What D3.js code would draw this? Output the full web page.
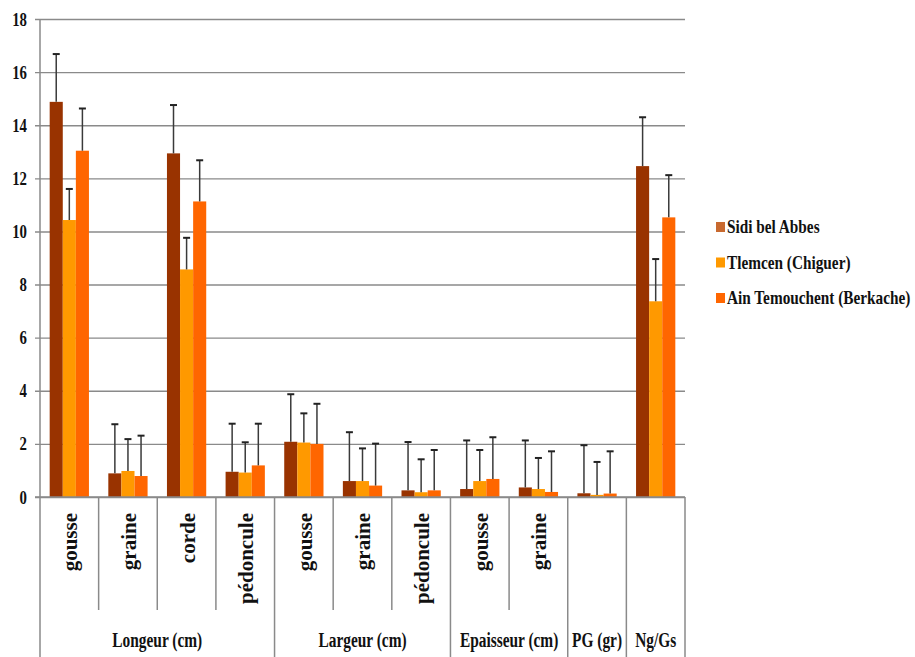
<!DOCTYPE html>
<html>
<head>
<meta charset="utf-8">
<script src="https://cdn.jsdelivr.net/npm/d3@7"></script>
<style>
  body { margin: 0; background: #fff; }
  text { font-family: "Liberation Serif", "Times New Roman", serif; font-weight: bold; fill: #111; }
</style>
</head>
<body>
<svg width="915" height="657"></svg>
<script>
// sub categories (bottom row, rotated) and their groups
const subLabels = ['gousse', 'graine', 'corde', 'pédoncule', 'gousse', 'graine', 'pédoncule', 'gousse', 'graine', '', '']
const groupNames = ['Longeur (cm)', 'Largeur (cm)', 'Epaisseur (cm)', 'PG (gr)', 'Ng/Gs']
const groupSizes = [4, 3, 2, 1, 1]

const seriesNames = ['Sidi bel Abbes', 'Tlemcen (Chiguer)', 'Ain Temouchent (Berkache)']
const sidi = [14.88, 0.89, 12.94, 0.95, 2.08, 0.60, 0.25, 0.30, 0.36, 0.14, 12.46]
const sidiErr = [1.80, 1.85, 1.82, 1.81, 1.79, 1.84, 1.82, 1.83, 1.77, 1.81, 1.84]
const tlemcen = [10.43, 0.98, 8.57, 0.92, 2.05, 0.60, 0.18, 0.60, 0.30, 0.08, 7.37]
const tlemcenErr = [1.17, 1.20, 1.19, 1.14, 1.10, 1.23, 1.24, 1.17, 1.17, 1.24, 1.59]
const ain = [13.04, 0.79, 11.13, 1.19, 2.00, 0.43, 0.25, 0.68, 0.19, 0.13, 10.53]
const ainErr = [1.59, 1.52, 1.55, 1.57, 1.51, 1.58, 1.52, 1.57, 1.53, 1.59, 1.59]
const yTicks = [0, 2, 4, 6, 8, 10, 12, 14, 16, 18]

const colors = ['#993300', '#ff9900', '#ff6600']
const legendColors = ['#c8692f', '#ff9900', '#ff6600']
const serif = '"Liberation Serif", "Times New Roman", serif'

const svg = d3.select('svg')
const plotLeft = 40
const plotRight = 685
const plotTop = 19
const plotBottom = 497

const idx = d3.range(subLabels.length)
const values = [sidi, tlemcen, ain]
const errs = [sidiErr, tlemcenErr, ainErr]

const x = d3.scaleBand().domain(idx).range([plotLeft, plotRight]).padding(0)
const xs = d3.scaleBand().domain([0, 1, 2]).range([0, x.bandwidth()]).paddingInner(0).paddingOuter(0.74)
const y = d3.scaleLinear().domain([0, 18]).range([plotBottom, plotTop])

// gridlines + y labels
const yAxis = d3.axisLeft(y).tickValues(yTicks).tickSize(-(plotRight - plotLeft)).tickSizeOuter(0)
const ga = svg.append('g')
  .attr('transform', 'translate(' + plotLeft + ',0)')
  .call(yAxis)
  .attr('font-family', serif)
  .attr('font-size', 19)
ga.select('.domain').remove()
ga.selectAll('.tick line').attr('x1', -5).attr('stroke', '#8a8a8a').attr('stroke-width', 1.4)
ga.selectAll('.tick text')
  .attr('x', -13 / 0.78)
  .attr('transform', 'scale(0.78,1)')
  .attr('font-family', serif)
  .attr('font-weight', 'bold')
  .attr('fill', '#111')

// bars
const cat = svg.selectAll('.cat')
  .data(idx)
  .enter().append('g')
  .attr('class', 'cat')
  .attr('transform', function (i) { return 'translate(' + x(i) + ',0)' })

for (let s = 0; s < 3; s++) {
  cat.append('rect')
    .attr('x', xs(s))
    .attr('width', xs.bandwidth())
    .attr('y', function (i) { return y(values[s][i]) })
    .attr('height', function (i) { return plotBottom - y(values[s][i]) })
    .attr('fill', colors[s])
}

// error bars (upper only)
for (let s = 0; s < 3; s++) {
  const cx = xs(s) + xs.bandwidth() / 2
  cat.append('line')
    .attr('x1', cx).attr('x2', cx)
    .attr('y1', function (i) { return y(values[s][i]) })
    .attr('y2', function (i) { return y(values[s][i] + errs[s][i]) })
    .attr('stroke', '#3a3a3a').attr('stroke-width', 1.5)
  cat.append('line')
    .attr('x1', cx - 3.5).attr('x2', cx + 3.5)
    .attr('y1', function (i) { return y(values[s][i] + errs[s][i]) })
    .attr('y2', function (i) { return y(values[s][i] + errs[s][i]) })
    .attr('stroke', '#222').attr('stroke-width', 2)
}

// axes lines
const lineColor = '#8a8a8a'
svg.append('line').attr('x1', plotLeft).attr('x2', plotLeft).attr('y1', plotTop).attr('y2', 657)
  .attr('stroke', lineColor).attr('stroke-width', 1.5)
svg.append('line').attr('x1', plotLeft - 5).attr('x2', plotRight).attr('y1', plotBottom).attr('y2', plotBottom)
  .attr('stroke', lineColor).attr('stroke-width', 1.5)

// group boundaries
const groupEnds = []
let acc = 0
groupSizes.forEach(function (n) { acc += n; groupEnds.push(acc) })

idx.slice(1).forEach(function (i) {
  const isGroup = groupEnds.indexOf(i) >= 0
  svg.append('line')
    .attr('x1', x(i)).attr('x2', x(i))
    .attr('y1', plotBottom).attr('y2', isGroup ? 657 : 610)
    .attr('stroke', lineColor).attr('stroke-width', 1.5)
})
svg.append('line').attr('x1', plotRight).attr('x2', plotRight).attr('y1', plotBottom).attr('y2', 657)
  .attr('stroke', lineColor).attr('stroke-width', 1.5)

// rotated sub labels
svg.selectAll('.sub')
  .data(idx.filter(function (i) { return subLabels[i] !== '' }))
  .enter().append('text')
  .attr('class', 'sub')
  .attr('transform', function (i) {
    return 'translate(' + (x(i) + x.bandwidth() / 2) + ',513) rotate(-90)'
  })
  .attr('text-anchor', 'end')
  .attr('dy', '0.38em')
  .attr('font-family', serif)
  .style('font-size', '21px')
  .text(function (i) { return subLabels[i] })

// group labels
let start = 0
groupNames.forEach(function (name, g) {
  const x0 = x(start)
  const x1 = x(start + groupSizes[g] - 1) + x.bandwidth()
  svg.append('text')
    .attr('transform', 'translate(' + ((x0 + x1) / 2) + ',647) scale(0.77,1)')
    .attr('text-anchor', 'middle')
    .attr('font-family', serif)
    .style('font-size', '20px')
    .text(name)
  start += groupSizes[g]
})

// legend
const legend = svg.selectAll('.legend')
  .data(seriesNames)
  .enter().append('g')
  .attr('class', 'legend')
  .attr('transform', function (d, i) { return 'translate(716,' + (233 + i * 35.5) + ')' })

legend.append('rect')
  .attr('x', 0).attr('y', -11)
  .attr('width', 9).attr('height', 10)
  .attr('fill', function (d, i) { return legendColors[i] })

legend.append('text')
  .attr('transform', 'translate(11,0) scale(0.85,1)')
  .attr('font-family', serif)
  .style('font-size', '18px')
  .text(function (d) { return d })
</script>
</body>
</html>
